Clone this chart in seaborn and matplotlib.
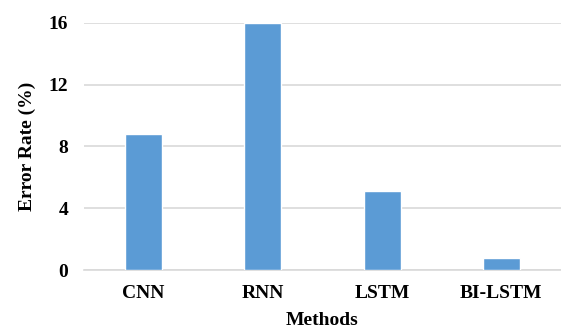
import matplotlib
matplotlib.use("Agg")
import matplotlib.pyplot as plt
import seaborn as sns
import pandas as pd

methods = ["CNN", "RNN", "LSTM", "BI-LSTM"]
error_rate = [8.8, 16.0, 5.1, 0.8]
yticks = [0, 4, 8, 12, 16]

df = pd.DataFrame({"Methods": methods, "Error": error_rate})

sns.set_theme(style="white")
plt.rcParams["font.family"] = ["Liberation Serif", "DejaVu Serif"]
plt.rcParams["font.weight"] = "bold"

fig = plt.figure(figsize=(5.61, 3.29), dpi=100)
ax = fig.add_axes([0.1497, 0.1793, 0.8503, 0.7514])

sns.barplot(data=df, x="Methods", y="Error", color="#5B9BD5",
            width=0.31, saturation=1, ax=ax, zorder=3)

ax.set_ylim(0, 16)
ax.set_yticks(yticks)
ax.yaxis.grid(True, color="#d9d9d9", linewidth=1.2, zorder=0)
ax.set_axisbelow(True)
for s in ["top", "right", "left"]:
    ax.spines[s].set_visible(False)
ax.spines["bottom"].set_color("#d9d9d9")
ax.spines["bottom"].set_linewidth(1.2)
ax.tick_params(axis="both", length=0)
ax.tick_params(axis="y", pad=11.5, labelsize=14)
ax.tick_params(axis="x", pad=11, labelsize=14)
for lab in ax.get_xticklabels() + ax.get_yticklabels():
    lab.set_fontweight("bold")
    lab.set_color("black")

ax.set_xlabel("Methods", fontsize=14, fontweight="bold", labelpad=7, color="black")
ax.set_ylabel("Error Rate (%)", fontsize=14, fontweight="bold", labelpad=9, color="black")

fig.savefig("out.png", dpi=100)
